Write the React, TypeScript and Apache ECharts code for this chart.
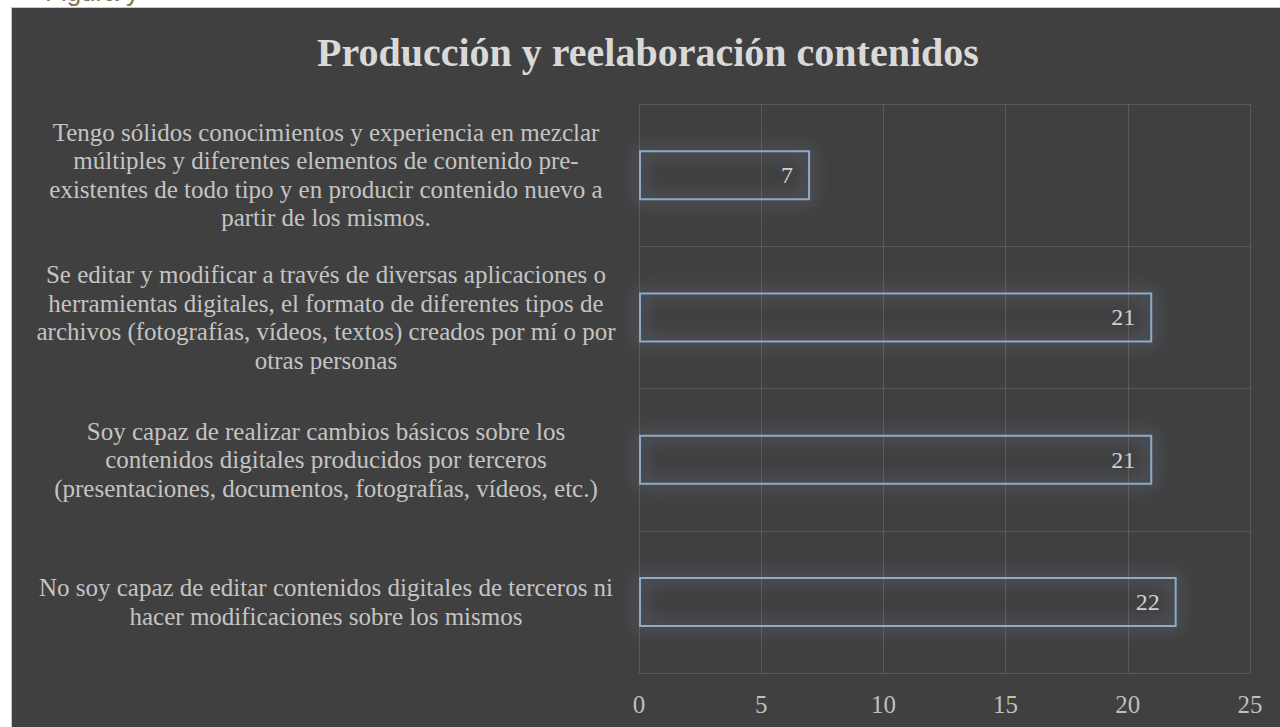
import React, { useEffect, useRef } from "react";
import * as echarts from "echarts";

const chartTitle = "Producción y reelaboración contenidos";
const captionText = "Figura y";

const categories = [
  "Tengo sólidos conocimientos y experiencia en mezclar\nmúltiples y diferentes elementos de contenido pre-\nexistentes de todo tipo y en producir contenido nuevo a\npartir de los mismos.",
  "Se editar y modificar a través de diversas aplicaciones o\nherramientas digitales, el formato de diferentes tipos de\narchivos (fotografías, vídeos, textos) creados por mí o por\notras personas",
  "Soy capaz de realizar cambios básicos sobre los\ncontenidos digitales producidos por terceros\n(presentaciones, documentos, fotografías, vídeos, etc.)",
  "No soy capaz de editar contenidos digitales de terceros ni\nhacer modificaciones sobre los mismos",
];

const values = [7, 21, 21, 22];

const axisMin = 0;
const axisMax = 25;
const axisStep = 5;

const FONT = "'Liberation Serif', 'DejaVu Serif', serif";

export default function App() {
  const ref = useRef<HTMLDivElement | null>(null);

  useEffect(() => {
    if (!ref.current) return;
    const chart = echarts.init(ref.current, undefined, { renderer: "svg" });
    chart.setOption({
      animation: false,
      backgroundColor: "#404040",
      title: {
        text: chartTitle,
        left: 317,
        top: 32,
        padding: 0,
        textStyle: {
          fontFamily: FONT,
          fontSize: 40,
          fontWeight: "bold",
          color: "#d9d9d9",
        },
      },
      graphic: [
        { type: "rect", left: 0, top: 0, shape: { width: 11, height: 727 }, style: { fill: "#ffffff" }, z: 100 },
        { type: "rect", left: 0, top: 0, shape: { width: 1280, height: 7 }, style: { fill: "#ffffff" }, z: 100 },
        { type: "line", shape: { x1: 11.5, y1: 7, x2: 11.5, y2: 727 }, style: { stroke: "#c8c8c8", lineWidth: 1 }, z: 101 },
        { type: "line", shape: { x1: 11, y1: 7.5, x2: 1280, y2: 7.5 }, style: { stroke: "#c8c8c8", lineWidth: 1 }, z: 101 },
        {
          type: "text",
          x: 45,
          y: -21,
          z: 102,
          style: {
            text: captionText,
            fontFamily: "'Liberation Sans', 'Noto Sans', sans-serif",
            fontSize: 26,
            fill: "#7d7655",
          },
        },
      ],
      grid: {
        left: 639,
        right: 30,
        top: 104,
        bottom: 54,
        containLabel: false,
      },
      xAxis: {
        type: "value",
        min: axisMin,
        max: axisMax,
        interval: axisStep,
        axisLine: { show: false },
        axisTick: { show: false },
        splitLine: { show: true, lineStyle: { color: "#595959", width: 1 } },
        axisLabel: {
          color: "#bfbfbf",
          fontFamily: FONT,
          fontSize: 25,
          margin: 19,
        },
      },
      yAxis: {
        type: "category",
        inverse: true,
        data: categories,
        axisLine: { show: false },
        axisTick: { show: false },
        splitLine: { show: true, lineStyle: { color: "#595959", width: 1 } },
        axisLabel: {
          color: "#c4c4c4",
          fontFamily: FONT,
          fontSize: 25,
          lineHeight: 28.5,
          align: "center",
          margin: 313,
        },
      },
      series: [
        {
          type: "bar",
          data: values,
          barWidth: 50,
          itemStyle: {
            color: "rgba(64,64,64,0)",
            borderColor: "#8eaac8",
            borderWidth: 2,
            shadowBlur: 18,
            shadowColor: "rgba(140,175,215,0.95)",
          },
          label: {
            show: true,
            position: "insideRight",
            distance: 17,
            color: "#d0d0d0",
            fontFamily: FONT,
            fontSize: 24,
          },
        },
      ],
    });
    return () => chart.dispose();
  }, []);

  return (
    <div style={{ position: "fixed", left: 0, top: 0, width: 1280, height: 727 }}>
      <div ref={ref} style={{ width: 1280, height: 727 }} />
    </div>
  );
}
